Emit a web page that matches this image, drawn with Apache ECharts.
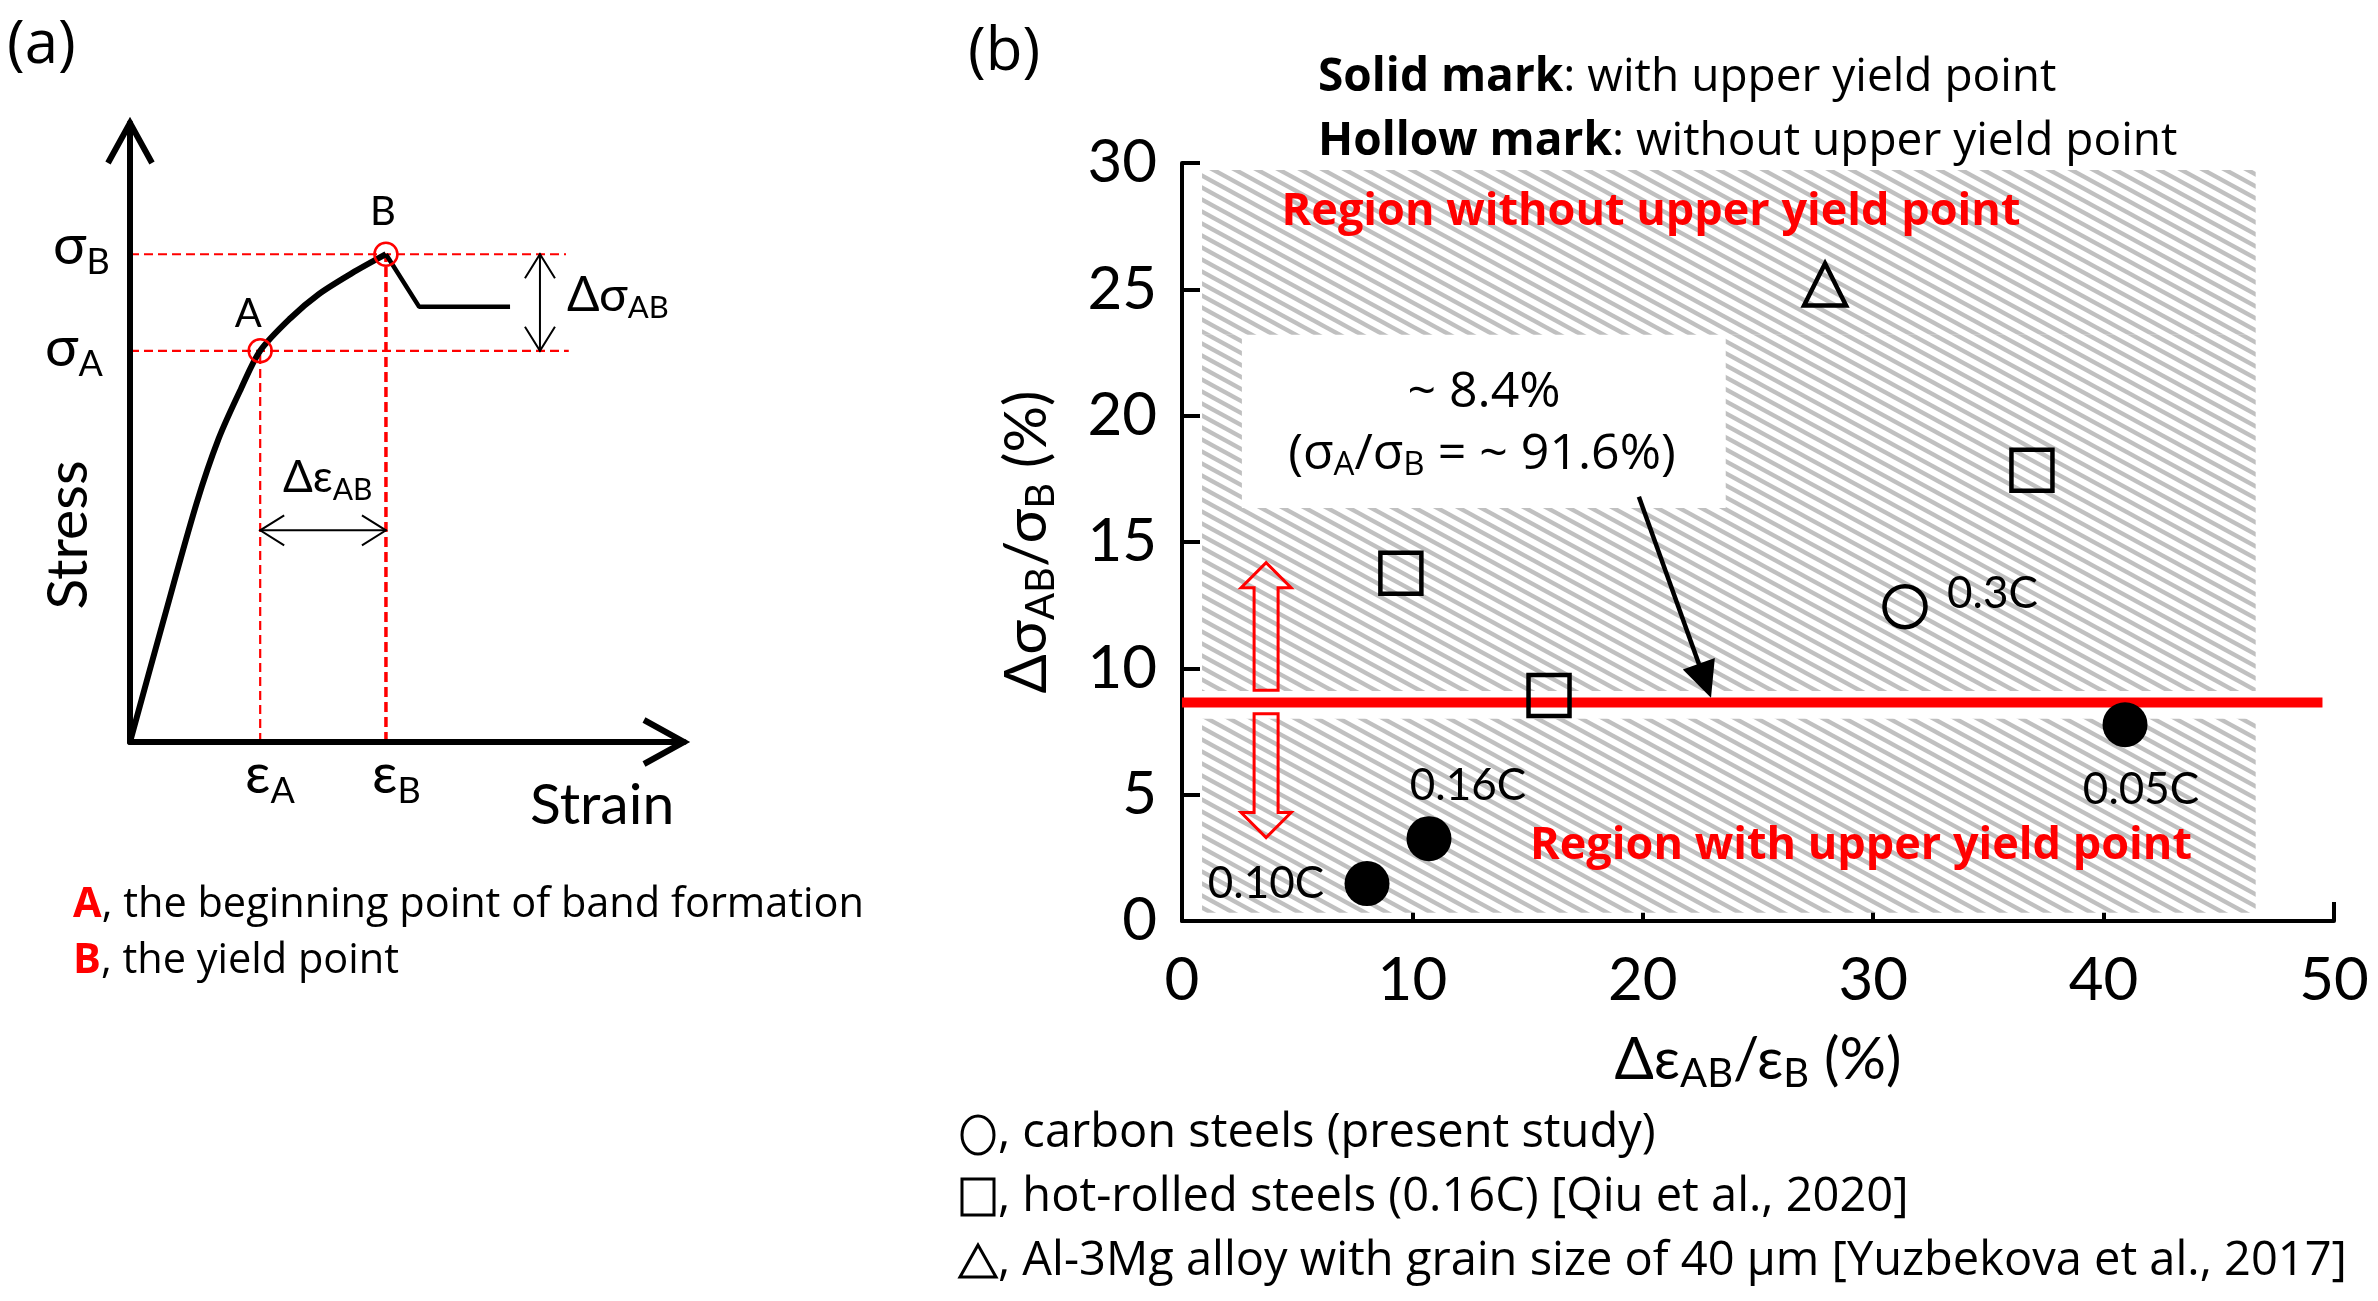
<!DOCTYPE html>
<html><head><meta charset="utf-8">
<script src="https://cdn.jsdelivr.net/npm/echarts@6.0.0/dist/echarts.min.js"></script>
<style>html,body{margin:0;padding:0;background:#fff;}#c{width:2378px;height:1301px;}</style>
</head><body><div id="c"></div>
<script>
// ===== Panel (b) data =====
const xTickValues = [0, 10, 20, 30, 40, 50];
const yTickValues = [0, 5, 10, 15, 20, 25, 30];
const solidCarbon = [[8.03, 1.48], [10.72, 3.26], [40.93, 7.77]];
const solidCarbonLabels = ['0.10C', '0.16C', '0.05C'];
const hollowCarbon = [[31.38, 12.44]];
const hollowCarbonLabels = ['0.3C'];
const hotRolled = [[9.5, 13.76], [15.93, 8.92], [36.89, 17.84]];
const alMg = [[27.91, 25.19]];
const thresholdLine = [[0, 8.65], [49.5, 8.65]];
const upperRegion = [[0.87, 9.1], [46.6, 29.72]];
const lowerRegion = [[0.87, 0.33], [46.6, 8.0]];
const noteBox = [[2.6, 16.35], [23.6, 23.2]];
const hollowArrows = [[[3.65, 9.13], [3.65, 14.18]], [[3.65, 8.2], [3.65, 3.3]]];
const noteArrow = [[19.83, 16.79], [22.96, 8.84]];

// ===== Panel (a) schematic data =====
const aCurveRise = [[0, 0], [6, 19.5], [12, 38.5], [16, 49], [20, 57], [23.5, 63.2], [29, 68.5], [34, 72.3], [40, 75.7], [46.2, 78.8]];
const aCurveDrop = [[46.2, 78.8], [52.2, 70.3], [68.6, 70.3]];
const aPoints = [[23.5, 63.2], [46.2, 78.8]];
const aPointNames = ['A', 'B'];
const aSigmaB = [[0, 78.8], [78.7, 78.8]];
const aSigmaA = [[0, 63.2], [79.2, 63.2]];
const aEpsA = [[23.5, 0], [23.5, 63.2]];
const aEpsB = [[46.2, 0], [46.2, 78.8]];
const aAxes = [[[0, 0], [0, 100]], [[0, 0], [100, 0]]];
const aDims = [[[74, 63.2], [74, 78.8]], [[23.5, 34.2], [46.2, 34.2]]];

// ===== styles =====
const FONT = 'Lato, "Open Sans", "DejaVu Sans", sans-serif';
const WFONT = '"Open Sans", Lato, "DejaVu Sans", sans-serif';
const solidLabelOffsets = [[-101, 0], [39, -53], [16, 65]];

function makeHatch() {
  const W = 22, H = 12, c = document.createElement('canvas');
  c.width = W; c.height = H;
  const g = c.getContext('2d');
  g.fillStyle = '#ffffff'; g.fillRect(0, 0, W, H);
  g.strokeStyle = '#c0c0c0'; g.lineWidth = 4.3;
  for (let k = -2; k <= 2; k++) {
    g.beginPath(); g.moveTo(-W, k * H - H); g.lineTo(2 * W, k * H + 2 * H); g.stroke();
  }
  return c;
}
const hatch = { image: makeHatch(), repeat: 'repeat' };

function rectsMinus(r, b) {
  const [[x0, y0], [x1, y1]] = r, [[bx0, by0], [bx1, by1]] = b;
  return [
    [[x0, by1], [x1, y1]],
    [[x0, y0], [x1, by0]],
    [[x0, by0], [bx0, by1]],
    [[bx1, by0], [x1, by1]]
  ];
}
const hatchRects = rectsMinus(upperRegion, noteBox).concat([lowerRegion]);

function richSub(main, sub, drop, family) {
  const f = family || FONT;
  return {
    m: { fontSize: main, fontFamily: f, fill: '#000', color: '#000', lineHeight: main, verticalAlign: 'middle' },
    s: { fontSize: sub, fontFamily: f, fill: '#000', color: '#000', lineHeight: sub, padding: [2 * drop, 0, 0, 0], verticalAlign: 'middle' }
  };
}
function txt(x, y, text, o) {
  o = o || {};
  return {
    type: 'text', x: x, y: y, rotation: o.rot || 0, z: 50,
    style: {
      text: text, fontFamily: o.family || FONT, fontSize: o.size || 44, fontWeight: o.weight || 'normal',
      fill: o.color || '#000', align: o.align || 'left', verticalAlign: 'middle', rich: o.rich
    }
  };
}

function blockArrow(params, api) {
  const a = hollowArrows[params.dataIndex];
  const p0 = api.coord(a[0]), p1 = api.coord(a[1]);
  const dx = p1[0] - p0[0], dy = p1[1] - p0[1], L = Math.hypot(dx, dy);
  const ux = dx / L, uy = dy / L, nx = -uy, ny = ux;
  const sw = 12, hw = 25, hl = 25;
  const hb = [p1[0] - ux * hl, p1[1] - uy * hl];
  const pts = [
    [p0[0] + nx * sw, p0[1] + ny * sw], [hb[0] + nx * sw, hb[1] + ny * sw], [hb[0] + nx * hw, hb[1] + ny * hw],
    p1, [hb[0] - nx * hw, hb[1] - ny * hw], [hb[0] - nx * sw, hb[1] - ny * sw], [p0[0] - nx * sw, p0[1] - ny * sw]
  ];
  return { type: 'polygon', shape: { points: pts }, style: { fill: 'none', stroke: '#ff0000', lineWidth: 3 } };
}
function solidArrow(params, api) {
  const p0 = api.coord(noteArrow[0]), p1 = api.coord(noteArrow[1]);
  const dx = p1[0] - p0[0], dy = p1[1] - p0[1], L = Math.hypot(dx, dy);
  const ux = dx / L, uy = dy / L, nx = -uy, ny = ux, hl = 36, hw = 17;
  const hb = [p1[0] - ux * hl, p1[1] - uy * hl];
  return {
    type: 'group', children: [
      { type: 'line', shape: { x1: p0[0], y1: p0[1], x2: hb[0] + ux * 4, y2: hb[1] + uy * 4 }, style: { stroke: '#000', lineWidth: 4.5 } },
      { type: 'polygon', shape: { points: [p1, [hb[0] + nx * hw, hb[1] + ny * hw], [hb[0] - nx * hw, hb[1] - ny * hw]] }, style: { fill: '#000' } }
    ]
  };
}
function chevron(tip, from, back, side) {
  const dx = tip[0] - from[0], dy = tip[1] - from[1], L = Math.hypot(dx, dy);
  const ux = dx / L, uy = dy / L, nx = -uy, ny = ux;
  const b = [tip[0] - ux * back, tip[1] - uy * back];
  return [[b[0] + nx * side, b[1] + ny * side], tip, [b[0] - nx * side, b[1] - ny * side]];
}
function openArrow(list, lw, back, side, both) {
  return function (params, api) {
    const s = list[params.dataIndex];
    const p0 = api.coord(s[0]), p1 = api.coord(s[1]);
    const kids = [
      { type: 'line', shape: { x1: p0[0], y1: p0[1], x2: p1[0], y2: p1[1] }, style: { stroke: '#000', lineWidth: lw, lineCap: 'round' } },
      { type: 'polyline', shape: { points: chevron(p1, p0, back, side) }, style: { stroke: '#000', lineWidth: lw, fill: 'none', lineJoin: 'miter' } }
    ];
    if (both) kids.push({ type: 'polyline', shape: { points: chevron(p0, p1, back, side) }, style: { stroke: '#000', lineWidth: lw, fill: 'none' } });
    return { type: 'group', children: kids };
  };
}

const axisTitleRich = richSub(58, 40, 14);
const gridB = { left: 1182, top: 163, width: 1152, height: 758, outerBoundsMode: 'none' };
const gridA = { left: 130, top: 123, width: 554, height: 619, outerBoundsMode: 'none' };
const boldRed = { fontSize: 41.5, fontFamily: WFONT, fontWeight: 'bold', fill: '#ff0000' };
const boldBlack = { fontSize: 46, fontFamily: WFONT, fontWeight: 'bold', fill: '#000' };
const legendStroke = { stroke: '#000', lineWidth: 3, fill: 'none' };

const option = {
  animation: false,
  backgroundColor: '#ffffff',
  textStyle: { fontFamily: FONT },
  grid: [gridB, gridA],
  xAxis: [{
    type: 'value', gridIndex: 0, min: xTickValues[0], max: xTickValues[xTickValues.length - 1], interval: xTickValues[1] - xTickValues[0],
    axisLine: { show: true, lineStyle: { color: '#000', width: 4 } },
    axisTick: { show: true, inside: true, length: 19, lineStyle: { color: '#000', width: 4 } },
    axisLabel: { fontSize: 60, color: '#000', fontFamily: FONT, margin: 30 },
    splitLine: { show: false },
    name: '{m|Δε}{s|AB}{m|/ε}{s|B}{m| (%)}', nameLocation: 'middle', nameGap: 110,
    nameTextStyle: { rich: axisTitleRich, color: '#000' }
  }, {
    type: 'value', gridIndex: 1, min: 0, max: 100, show: false
  }],
  yAxis: [{
    type: 'value', gridIndex: 0, min: yTickValues[0], max: yTickValues[yTickValues.length - 1], interval: yTickValues[1] - yTickValues[0],
    axisLine: { show: true, lineStyle: { color: '#000', width: 4 } },
    axisTick: { show: true, inside: true, length: 18, lineStyle: { color: '#000', width: 4 } },
    axisLabel: { fontSize: 60, color: '#000', fontFamily: FONT, margin: 25 },
    splitLine: { show: false },
    name: '{m|Δσ}{s|AB}{m|/σ}{s|B}{m| (%)}', nameLocation: 'middle', nameGap: 126, nameRotate: 90,
    nameTextStyle: { rich: axisTitleRich, color: '#000' }
  }, {
    type: 'value', gridIndex: 1, min: 0, max: 100, show: false
  }],
  series: [
    // ---- panel (b) ----
    {
      type: 'line', xAxisIndex: 0, yAxisIndex: 0, data: [], symbol: 'none', silent: true, z: 1,
      markArea: {
        silent: true, label: { show: false }, itemStyle: { color: hatch, borderWidth: 0 },
        data: hatchRects.map(r => [{ coord: r[0] }, { coord: r[1] }])
      }
    },
    {
      type: 'line', name: 'threshold', xAxisIndex: 0, yAxisIndex: 0, data: thresholdLine, symbol: 'none', silent: true, z: 3,
      lineStyle: { color: '#ff0000', width: 10 }
    },
    {
      type: 'custom', xAxisIndex: 0, yAxisIndex: 0, data: hollowArrows.map(a => a[0]), renderItem: blockArrow, silent: true, z: 4
    },
    {
      type: 'custom', xAxisIndex: 0, yAxisIndex: 0, data: [noteArrow[0]], renderItem: solidArrow, silent: true, z: 4
    },
    {
      type: 'scatter', name: 'hot-rolled steels', xAxisIndex: 0, yAxisIndex: 0, data: hotRolled, symbol: 'rect', symbolSize: 41, z: 6,
      itemStyle: { color: 'transparent', borderColor: '#000', borderWidth: 4.5, opacity: 1 }
    },
    {
      type: 'scatter', name: 'Al-3Mg', xAxisIndex: 0, yAxisIndex: 0, data: alMg, symbol: 'triangle', symbolSize: [42, 42], z: 6,
      itemStyle: { color: 'transparent', borderColor: '#000', borderWidth: 4.5, opacity: 1 }
    },
    {
      type: 'scatter', name: 'carbon hollow', xAxisIndex: 0, yAxisIndex: 0, symbol: 'circle', symbolSize: 41, z: 6,
      itemStyle: { color: 'transparent', borderColor: '#000', borderWidth: 4.5, opacity: 1 },
      data: hollowCarbon.map((v, i) => ({ value: v, name: hollowCarbonLabels[i] })),
      label: { show: true, position: 'inside', formatter: '{b}', offset: [42, -13], align: 'left', fontSize: 44, color: '#000', fontFamily: FONT }
    },
    {
      type: 'scatter', name: 'carbon solid', xAxisIndex: 0, yAxisIndex: 0, symbol: 'circle', symbolSize: 45, z: 6,
      itemStyle: { color: '#000', opacity: 1 },
      data: solidCarbon.map((v, i) => ({ value: v, name: solidCarbonLabels[i], label: { offset: solidLabelOffsets[i] } })),
      label: { show: true, position: 'inside', formatter: '{b}', fontSize: 44, color: '#000', fontFamily: FONT }
    },
    // ---- panel (a) ----
    { type: 'line', xAxisIndex: 1, yAxisIndex: 1, data: aSigmaB, symbol: 'none', silent: true, clip: false, z: 2, lineStyle: { color: '#ff0000', width: 2.2, type: [9, 5] } },
    { type: 'line', xAxisIndex: 1, yAxisIndex: 1, data: aSigmaA, symbol: 'none', silent: true, clip: false, z: 2, lineStyle: { color: '#ff0000', width: 2.2, type: [9, 5] } },
    { type: 'line', xAxisIndex: 1, yAxisIndex: 1, data: aEpsA, symbol: 'none', silent: true, clip: false, z: 2, lineStyle: { color: '#ff0000', width: 2.2, type: [9, 5] } },
    { type: 'line', xAxisIndex: 1, yAxisIndex: 1, data: aEpsB, symbol: 'none', silent: true, clip: false, z: 2, lineStyle: { color: '#ff0000', width: 3.5, type: [10, 5] } },
    { type: 'line', xAxisIndex: 1, yAxisIndex: 1, data: aCurveRise, symbol: 'none', smooth: 0.3, silent: true, clip: false, z: 3, lineStyle: { color: '#000', width: 6 } },
    { type: 'line', xAxisIndex: 1, yAxisIndex: 1, data: aCurveDrop, symbol: 'none', silent: true, clip: false, z: 3, lineStyle: { color: '#000', width: 4.5 } },
    { type: 'custom', xAxisIndex: 1, yAxisIndex: 1, data: aAxes.map(a => a[0]), renderItem: openArrow(aAxes, 6, 40, 22, false), silent: true, clip: false, z: 4 },
    { type: 'custom', xAxisIndex: 1, yAxisIndex: 1, data: aDims.map(a => a[0]), renderItem: openArrow(aDims, 2, 24, 15, true), silent: true, clip: false, z: 4 },
    {
      type: 'scatter', xAxisIndex: 1, yAxisIndex: 1, symbol: 'circle', symbolSize: 23, z: 5,
      itemStyle: { color: 'transparent', borderColor: '#ff0000', borderWidth: 2.5, opacity: 1 },
      data: aPoints.map((v, i) => ({ value: v, name: aPointNames[i], label: { offset: i === 0 ? [-12, -37] : [-3, -42] } })),
      label: { show: true, position: 'inside', formatter: '{b}', fontSize: 40, color: '#000', fontFamily: FONT }
    }
  ],
  graphic: [
    txt(7, 46, '(a)', { size: 60, family: WFONT }),
    txt(968, 53, '(b)', { size: 60, family: WFONT }),
    // panel (a) annotations
    txt(53, 246, '{m|σ}{s|B}', { rich: richSub(56, 36, 16) }),
    txt(45, 348, '{m|σ}{s|A}', { rich: richSub(56, 36, 16) }),
    txt(567, 296, '{m|Δσ}{s|AB}', { rich: richSub(48, 31, 12) }),
    txt(283, 478, '{m|Δε}{s|AB}', { rich: richSub(44, 30, 12) }),
    txt(245, 775, '{m|ε}{s|A}', { rich: richSub(56, 36, 16) }),
    txt(372, 775, '{m|ε}{s|B}', { rich: richSub(56, 36, 16) }),
    txt(530, 806, 'Strain', { size: 57 }),
    txt(69, 535, 'Stress', { size: 57, rot: Math.PI / 2, align: 'center' }),
    txt(73, 905, '{r|A}, the beginning point of band formation', { size: 41.5, family: WFONT, rich: { r: boldRed } }),
    txt(73, 961, '{r|B}, the yield point', { size: 41.5, family: WFONT, rich: { r: boldRed } }),
    // panel (b) annotations
    txt(1318, 78, '{b|Solid mark}: with upper yield point', { size: 46, family: WFONT, rich: { b: boldBlack } }),
    txt(1318, 142, '{b|Hollow mark}: without upper yield point', { size: 46, family: WFONT, rich: { b: boldBlack } }),
    txt(1651, 212, 'Region without upper yield point', { size: 45, family: WFONT, weight: 'bold', color: '#ff0000', align: 'center' }),
    txt(1861, 846, 'Region with upper yield point', { size: 45, family: WFONT, weight: 'bold', color: '#ff0000', align: 'center' }),
    txt(1484, 393, '~ 8.4%', { size: 50, family: WFONT, align: 'center' }),
    txt(1482, 455, '{m|(σ}{s|A}{m|/σ}{s|B}{m| = ~ 91.6%)}', { align: 'center', rich: richSub(50, 33, 11, WFONT) }),
    // bottom legend (symbols drawn as shapes)
    { type: 'ellipse', shape: { cx: 978, cy: 1135, rx: 16, ry: 19 }, style: legendStroke, z: 50 },
    { type: 'rect', shape: { x: 962, y: 1179, width: 32, height: 36 }, style: legendStroke, z: 50 },
    { type: 'polygon', shape: { points: [[978, 1245], [960, 1277], [996, 1277]] }, style: legendStroke, z: 50 },
    txt(998, 1134, ', carbon steels (present study)', { size: 47, family: WFONT }),
    txt(998, 1198, ', hot-rolled steels (0.16C) [Qiu et al., 2020]', { size: 47, family: WFONT }),
    txt(998, 1262, ', Al-3Mg alloy with grain size of 40 μm [Yuzbekova et al., 2017]', { size: 47, family: WFONT })
  ]
};

const chart = echarts.init(document.getElementById('c'), null, { renderer: 'canvas', width: 2378, height: 1301 });
chart.setOption(option);
</script>
</body></html>
